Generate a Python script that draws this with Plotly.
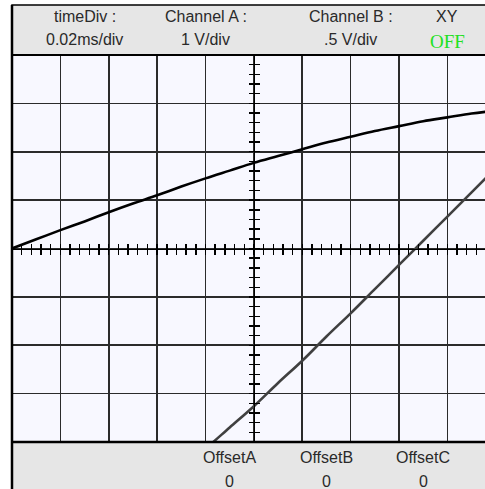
import plotly.graph_objects as go

# ---------------- data ----------------
time_ms = [0.00, 0.01, 0.02, 0.03, 0.04, 0.05, 0.06, 0.07, 0.08, 0.09, 0.10,
           0.11, 0.12, 0.13, 0.14, 0.15, 0.16, 0.17, 0.18, 0.19, 0.20]
channel_a_volts = [0.00, 0.19, 0.38, 0.56, 0.75, 0.93, 1.10, 1.28, 1.45, 1.61, 1.77,
                   1.91, 2.05, 2.19, 2.31, 2.43, 2.53, 2.63, 2.71, 2.79, 2.85]
time_b_ms = [0.07, 0.08, 0.09, 0.10, 0.11, 0.12, 0.13, 0.14, 0.15, 0.16, 0.17,
             0.18, 0.19, 0.20]
channel_b_volts = [-2.28, -2.07, -1.85, -1.63, -1.39, -1.16, -0.91, -0.67, -0.42,
                   -0.17, 0.08, 0.33, 0.58, 0.83]

header_labels = ["timeDiv :", "Channel A :", "Channel B :", "XY"]
header_values = ["0.02ms/div", "1 V/div", ".5 V/div", "OFF"]
offset_labels = ["OffsetA", "OffsetB", "OffsetC"]
offset_values = [0, 0, 0]

time_div_ms = 0.02
volts_div_a = 1.0
volts_div_b = 0.5

# ---------------- layout geometry ----------------
W, H = 485, 489
ML, MT, MB = 12, 55, 47
PW = W - ML
PH = H - MT - MB
DIV_PX = PH / 8.0
XMAX = PW / DIV_PX * time_div_ms


def py(pix):
    """pixel row -> paper y"""
    return (H - MB - pix) / PH


def px(pix):
    return (pix - ML) / PW


FONT = "Liberation Sans"
TXT = "#2a2a2a"
GRID = "#2b2b2b"
PANEL = "#e6e6e6"

fig = go.Figure()

fig.add_trace(go.Scatter(x=time_ms, y=channel_a_volts, mode="lines",
                         line=dict(color="#000000", width=2.6, shape="spline"),
                         xaxis="x", yaxis="y", hoverinfo="skip", showlegend=False))
fig.add_trace(go.Scatter(x=time_b_ms, y=channel_b_volts, mode="lines",
                         line=dict(color="#404040", width=2.6, shape="spline"),
                         xaxis="x", yaxis="y2", hoverinfo="skip", showlegend=False))

center_x = 5 * time_div_ms
common_x = dict(range=[0, XMAX], showticklabels=False, zeroline=False, fixedrange=True)
common_y = dict(range=[-4 * volts_div_a, 4 * volts_div_a], showticklabels=False,
                zeroline=False, fixedrange=True)

fig.update_layout(
    width=W, height=H,
    margin=dict(l=ML, r=0, t=MT, b=MB, pad=0),
    paper_bgcolor="#ffffff",
    plot_bgcolor="#f8f8ff",
    showlegend=False,
    xaxis=dict(**common_x, showgrid=True, gridcolor=GRID, gridwidth=1.6,
               dtick=time_div_ms, tick0=0, ticks="", showline=False),
    yaxis=dict(**common_y, showgrid=True, gridcolor=GRID, gridwidth=1.6,
               dtick=volts_div_a, tick0=0, ticks="", showline=False),
    yaxis2=dict(range=[-4 * volts_div_b, 4 * volts_div_b], overlaying="y",
                showgrid=False, showticklabels=False, zeroline=False, fixedrange=True),
    # centre horizontal axis with crossing ticks
    xaxis2=dict(**common_x, overlaying="x", anchor="free", position=0.5,
                showgrid=False, showline=True, linecolor="#000", linewidth=1.6,
                ticks="outside", ticklen=5, tickwidth=1.4, tickcolor="#000",
                dtick=time_div_ms / 5, tick0=0),
    xaxis3=dict(**common_x, overlaying="x", anchor="free", position=0.5,
                showgrid=False, showline=False,
                ticks="inside", ticklen=5, tickwidth=1.4, tickcolor="#000",
                dtick=time_div_ms / 5, tick0=0),
    # centre vertical axis with crossing ticks
    yaxis3=dict(**common_y, overlaying="y", anchor="free", position=center_x / XMAX,
                showgrid=False, showline=True, linecolor="#000", linewidth=1.6,
                ticks="outside", ticklen=5, tickwidth=1.4, tickcolor="#000",
                dtick=volts_div_a / 5, tick0=0),
    yaxis4=dict(**common_y, overlaying="y", anchor="free", position=center_x / XMAX,
                showgrid=False, showline=False,
                ticks="inside", ticklen=5, tickwidth=1.4, tickcolor="#000",
                dtick=volts_div_a / 5, tick0=0),
)

# invisible traces to activate the centre axes
for xa, ya in [("x2", "y"), ("x3", "y"), ("x", "y3"), ("x", "y4")]:
    fig.add_trace(go.Scatter(x=[None], y=[None], xaxis=xa, yaxis=ya,
                             showlegend=False, hoverinfo="skip"))

shapes = [
    # header panel
    dict(type="rect", xref="paper", yref="paper", x0=0, x1=1.2, y0=1, y1=py(5),
         fillcolor=PANEL, line=dict(color="#000", width=1.5), layer="above"),
    # footer panel
    dict(type="rect", xref="paper", yref="paper", x0=0, x1=1.2, y0=py(H + 20), y1=0,
         fillcolor=PANEL, line=dict(color="#000", width=1.5), layer="above"),
    # separators
    dict(type="line", xref="paper", yref="paper", x0=0, x1=1.2, y0=1, y1=1,
         line=dict(color="#000", width=2)),
    dict(type="line", xref="paper", yref="paper", x0=0, x1=1.2, y0=0, y1=0,
         line=dict(color="#000", width=2.5)),
    # left border
    dict(type="line", xref="paper", yref="paper", x0=0, x1=0, y0=py(H + 20), y1=py(5),
         line=dict(color="#000", width=2.5)),
]
fig.update_layout(shapes=shapes)

header_x_div = [1.5, 4, 7, 9]
ann = []
for lab, val, xd in zip(header_labels, header_values, header_x_div):
    xx = xd * time_div_ms
    ann.append(dict(x=xx, y=py(17), xref="x", yref="paper", text=lab, showarrow=False,
                    xanchor="center", yanchor="middle",
                    font=dict(family=FONT, size=16, color=TXT)))
    if val == "OFF":
        f = dict(family="Liberation Serif", size=19, color="#22e022")
        yy = py(41)
    else:
        f = dict(family=FONT, size=16, color=TXT)
        yy = py(40)
    ann.append(dict(x=xx, y=yy, xref="x", yref="paper", text=val, showarrow=False,
                    xanchor="center", yanchor="middle", font=f))

offset_x_div = [4.5, 6.5, 8.5]
for lab, val, xd in zip(offset_labels, offset_values, offset_x_div):
    xx = xd * time_div_ms
    ann.append(dict(x=xx, y=py(457), xref="x", yref="paper", text=lab, showarrow=False,
                    xanchor="center", yanchor="middle",
                    font=dict(family=FONT, size=16, color=TXT)))
    ann.append(dict(x=xx, y=py(481), xref="x", yref="paper", text=str(val),
                    showarrow=False, xanchor="center", yanchor="middle",
                    font=dict(family=FONT, size=16, color=TXT)))
fig.update_layout(annotations=ann)

fig.write_html("out.html", config=dict(displayModeBar=False, staticPlot=True),
               post_script="document.body.style.margin='0';document.body.style.overflow='hidden';")
